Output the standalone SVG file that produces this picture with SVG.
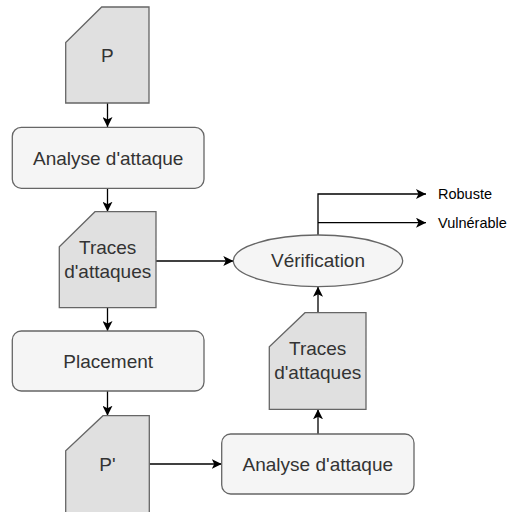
<svg xmlns="http://www.w3.org/2000/svg" width="512" height="512" viewBox="0 0 512 512">
<style>
.box{fill:#f5f5f5;stroke:#666666;stroke-width:1.3}
.doc{fill:#e0e0e0;stroke:#666666;stroke-width:1.3}
.t{font-family:"Liberation Sans",Arial,sans-serif;font-size:19px;fill:#333333;text-anchor:middle;dominant-baseline:central}
.o{font-family:"Liberation Sans",Arial,sans-serif;font-size:14.5px;fill:#000000;dominant-baseline:central}
.c{fill:none;stroke:#000000;stroke-width:1.3}
</style>
<defs>
<marker id="ah" viewBox="0 0 10 10" refX="10" refY="5" markerWidth="10" markerHeight="10" markerUnits="userSpaceOnUse" orient="auto">
<path d="M0,0 L10,5 L0,10 L2.5,5 Z" fill="#000000"/>
</marker>
</defs>
<rect width="512" height="512" fill="#ffffff"/>
<g id="connectors">
<line class="c" x1="107.5" y1="103" x2="107.5" y2="127" marker-end="url(#ah)"/>
<line class="c" x1="107.5" y1="188.3" x2="107.5" y2="211.7" marker-end="url(#ah)"/>
<line class="c" x1="107.5" y1="307.7" x2="107.5" y2="331" marker-end="url(#ah)"/>
<line class="c" x1="107.5" y1="391" x2="107.5" y2="415.7" marker-end="url(#ah)"/>
<line class="c" x1="156" y1="261" x2="233.3" y2="261" marker-end="url(#ah)"/>
<line class="c" x1="149.3" y1="464" x2="221.7" y2="464" marker-end="url(#ah)"/>
<line class="c" x1="318" y1="434" x2="318" y2="409.3" marker-end="url(#ah)"/>
<line class="c" x1="318" y1="312.7" x2="318" y2="286.7" marker-end="url(#ah)"/>
<polyline class="c" points="318,235 318,194 426,194" marker-end="url(#ah)"/>
<line class="c" x1="318" y1="222.7" x2="426" y2="222.7" marker-end="url(#ah)"/>
</g>
<g id="p">
<path class="doc" d="M101.7,7 L149,7 L149,103 L65.7,103 L65.7,42.5 Z"/>
<text class="t" x="107.4" y="55">P</text>
</g>
<g id="analyse1">
<rect class="box" x="12.3" y="127.3" width="191.7" height="61" rx="9"/>
<text class="t" x="108.2" y="158.8">Analyse d'attaque</text>
</g>
<g id="traces1">
<path class="doc" d="M95,211.7 L156,211.7 L156,307.7 L59.3,307.7 L59.3,246.7 Z"/>
<text class="t" x="107.7" y="247.5">Traces</text>
<text class="t" x="107.7" y="271.5">d'attaques</text>
</g>
<g id="placement">
<rect class="box" x="12.3" y="331" width="191.7" height="60" rx="9"/>
<text class="t" x="108.2" y="361">Placement</text>
</g>
<g id="pprime">
<path class="doc" d="M103,415.7 L149.3,415.7 L149.3,520 L65.7,520 L65.7,450.7 Z"/>
<text class="t" x="107.5" y="464">P'</text>
</g>
<g id="analyse2">
<rect class="box" x="221.7" y="434" width="192.3" height="60" rx="9"/>
<text class="t" x="317.8" y="464">Analyse d'attaque</text>
</g>
<g id="traces2">
<path class="doc" d="M305,312.7 L366,312.7 L366,409.3 L269.3,409.3 L269.3,346.7 Z"/>
<text class="t" x="317.7" y="348.5">Traces</text>
<text class="t" x="317.7" y="372.5">d'attaques</text>
</g>
<g id="verification">
<ellipse class="box" cx="318" cy="260.8" rx="84.7" ry="25.8"/>
<text class="t" x="318" y="260.8">Vérification</text>
</g>
<g id="outputs">
<text class="o" x="438" y="194">Robuste</text>
<text class="o" x="438" y="222.7">Vulnérable</text>
</g>
</svg>
